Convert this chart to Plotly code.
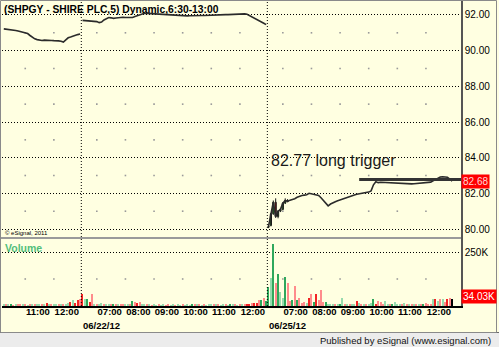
import plotly.graph_objects as go

# ---------------- data ----------------
title_text = "(SHPGY - SHIRE PLC,5) Dynamic,6:30-13:00"
day_labels = ["06/22/12", "06/25/12"]

# 5-minute closes (session 6:30-13:00)
close_d1 = [91.22, 91.21, 91.20, 91.19, 91.17, 91.13, 91.10, 91.07, 91.03, 91.00,
            90.96, 90.85, 90.74, 90.66, 90.62, 90.58, 90.57, 90.59, 90.57, 90.58,
            90.57, 90.56, 90.57, 90.55, 90.53, 90.48, 90.60, 90.72, 90.76, 90.82,
            90.86, 90.90, 90.93]          # 06/21, bars from 10:15
close_d2 = [91.70, 91.69, 91.68, 91.66, 91.65, 91.64, 91.63, 91.57, 91.60, 91.72,
            91.80, 91.86, 91.84, 91.81, 91.83, 91.85, 91.86, 91.87, 91.86, 91.85,
            91.84, 91.86, 91.92, 91.96, 92.02, 92.08, 92.10, 92.09, 92.08, 92.07,
            92.06, 92.05, 92.04, 92.03, 92.02, 92.01, 92.00, 91.98, 91.97, 91.96,
            91.95, 91.94, 91.95, 91.96, 91.95, 91.96, 91.97, 91.98, 91.99, 91.98,
            91.97, 91.97, 91.98, 91.98, 91.97, 91.98, 91.99, 92.00, 92.00, 92.01,
            92.02, 92.02, 92.03, 92.04, 92.05, 92.07, 92.07, 92.06, 92.06, 92.04,
            91.97, 91.93, 91.86, 91.78, 91.70, 91.62, 91.54, 91.46]   # 06/22
close_d3 = [80.15, 80.85, 81.50, 80.70, 81.00, 81.10, 81.45, 81.60, 81.55, 81.62,
            81.65, 81.70, 81.78, 81.85, 81.88, 81.90, 81.92, 82.00, 81.96, 81.93,
            81.91, 81.88, 81.75, 81.58, 81.45, 81.30, 81.40, 81.48, 81.53, 81.58,
            81.63, 81.70, 81.74, 81.78, 81.83, 81.87, 81.91, 81.95, 81.97, 81.99,
            82.01, 82.04, 82.07, 82.14, 82.48, 82.65, 82.60, 82.62, 82.61, 82.60,
            82.61, 82.60, 82.59, 82.58, 82.57, 82.56, 82.55, 82.54, 82.53, 82.52,
            82.53, 82.54, 82.55, 82.56, 82.57, 82.58, 82.59, 82.60, 82.63, 82.70,
            82.78, 82.88, 82.92, 82.93, 82.92, 82.90, 82.80, 82.68]   # 06/25

# opening candles of 06/25
cndl_open  = [80.10, 80.20, 80.85, 81.50, 80.70, 81.00, 81.10, 81.45, 81.60]
cndl_high  = [80.25, 80.90, 81.60, 81.72, 81.05, 81.15, 81.50, 81.72, 81.68]
cndl_low   = [80.05, 80.15, 80.80, 80.62, 80.60, 80.95, 81.05, 81.40, 81.50]
cndl_close = [80.15, 80.85, 81.50, 80.70, 81.00, 81.10, 81.45, 81.60, 81.55]

# volume (thousands) and colour codes (G up, g up-light, R down, r down-light)
vol_d1 = [8, 5, 6, 7, 4, 5, 6, 5, 6, 5, 4, 6, 5, 6, 5, 7, 5, 6, 12, 5,
          6, 7, 10, 6, 10, 7, 9, 14, 17, 28, 14, 28, 33]
col_d1 = "grgGrgrrgrgrgrggrgRgrggrgrggRgRRr"
vol_d2 = [54, 32, 32, 17, 56, 6, 5, 8, 12, 6, 10, 7, 5, 9, 6, 5, 7, 6, 5, 8,
          7, 23, 17, 12, 17, 10, 5, 6, 5, 4, 5, 4, 5, 4, 5, 4, 5, 4, 5, 4,
          5, 4, 5, 4, 5, 4, 5, 5, 9, 5, 4, 5, 4, 5, 5, 5, 9, 5, 4, 5,
          5, 4, 5, 9, 5, 4, 5, 6, 5, 7, 8, 12, 14, 14, 28, 28, 36, 23]
col_d2 = "RgGRrgrggrggrGrgrrggrGrRrggrgrggrggrrggrggrgggGrgrgrgggrgrggrgGgrgrgrRRrRRrGr"
vol_d3 = [89, 130, 287, 108, 147, 66, 37, 133, 108, 23, 28, 93, 28, 38, 15, 20, 15, 38, 56, 20,
          56, 28, 74, 20, 17, 8, 9, 7, 10, 6, 8, 36, 6, 5, 7, 5, 6, 23, 14, 6,
          5, 7, 6, 14, 31, 8, 23, 20, 8, 23, 6, 8, 6, 20, 9, 8, 6, 14, 6, 5,
          6, 5, 6, 5, 7, 6, 14, 6, 9, 31, 33, 23, 31, 31, 20, 33, 36, 34.03]
col_d3 = "GGgGrGggGrrGrGrrrgRrGRrrrGgggrgGgrgrggRgrgrggGRrrrggrGgggrgrgrgrgrGrrrgRgrgrRr"

# axis ticks
price_ticks = [80, 82, 84, 86, 88, 90, 92]
vol_tick_vals = [250000]
vol_tick_text = ["250K"]
time_ticks_d1 = ["11:00", "12:00"]
time_ticks_d2 = ["07:00", "08:00", "09:00", "10:00", "11:00", "12:00"]
time_ticks_d3 = ["07:00", "08:00", "09:00", "10:00", "11:00", "12:00"]
trigger_price = 82.77
trigger_label = "82.77 long trigger"
trigger_start = "09:40"   # on 06/25
last_price_text = "82.68"
last_vol_text = "34.03K"

# ---------------- bar index helpers ----------------
SESSION_START = 6 * 60 + 30
BAR = 5
d1_first = 45                     # first visible bar of 06/21 (10:15)
off1 = -d1_first
off2 = len(close_d1)
off3 = off2 + len(close_d2)


def bar_of(offset, hhmm):
    h, m = hhmm.split(":")
    return offset + (int(h) * 60 + int(m) - SESSION_START) // BAR


x1 = list(range(0, len(close_d1)))
x2 = list(range(off2, off2 + len(close_d2)))
x3 = list(range(off3, off3 + len(close_d3)))

tick_x = ([bar_of(off1, t) for t in time_ticks_d1] +
          [bar_of(off2, t) for t in time_ticks_d2] +
          [bar_of(off3, t) for t in time_ticks_d3])
tick_txt = time_ticks_d1 + time_ticks_d2 + time_ticks_d3

cmap = {"G": "#2FA85C", "g": "#98DBAE", "R": "#F22424", "r": "#FF8C8C"}
vol_all = [v * 1000 for v in vol_d1 + vol_d2 + vol_d3]
col_all = [cmap[c] for c in col_d1 + col_d2 + col_d3]
x_all = x1 + x2 + x3

BG = "#FFFFE1"
FONT = "Liberation Sans"

fig = go.Figure()

# grid dots (between price gridlines, at hourly ticks)
mid_levels = [p + 1 for p in price_ticks[:-1]]
fig.add_trace(go.Scatter(
    x=[t for t in tick_x for _ in mid_levels],
    y=[lv for _ in tick_x for lv in mid_levels],
    mode="markers", marker=dict(symbol="square", size=1.6, color="#9a9a9a"),
    xaxis="x", yaxis="y", hoverinfo="skip", showlegend=False))
fig.add_trace(go.Scatter(
    x=tick_x, y=[vol_tick_vals[0] / 2] * len(tick_x),
    mode="markers", marker=dict(symbol="square", size=1.6, color="#9a9a9a"),
    xaxis="x", yaxis="y2", hoverinfo="skip", showlegend=False))

# price lines per day
for xs, ys in ((x1, close_d1), (x2, close_d2), (x3, close_d3)):
    fig.add_trace(go.Scatter(x=xs, y=ys, mode="lines",
                             line=dict(color="#2b2b2b", width=1.6),
                             xaxis="x", yaxis="y", hoverinfo="skip", showlegend=False))

fig.add_trace(go.Candlestick(
    x=x3[:len(cndl_open)], open=cndl_open, high=cndl_high, low=cndl_low, close=cndl_close,
    increasing=dict(line=dict(color="#1a1a1a", width=1), fillcolor="#1FC01F"),
    decreasing=dict(line=dict(color="#1a1a1a", width=1), fillcolor="#B00000"),
    xaxis="x", yaxis="y", hoverinfo="skip", showlegend=False))

fig.add_trace(go.Bar(x=x_all, y=vol_all, marker=dict(color=col_all, line=dict(width=0)),
                     width=0.5, xaxis="x", yaxis="y2", hoverinfo="skip", showlegend=False))

# ---------------- layout ----------------
W, H = 499, 347
ML, MR, MT, MB = 2, 38, 0, 41
PW, PH = W - ML - MR, H - MT - MB


def px(xp):
    return (xp - ML) / PW


def py(yp):
    return (PH - (yp - MT)) / PH


split = py(238)
xr = [-0.75, 191.7]

shapes = []
for b in (off2 - 0.5, off3 - 0.5):
    shapes.append(dict(type="line", xref="x", yref="paper", x0=b, x1=b, y0=0, y1=1,
                       line=dict(color="#000000", width=1, dash="1px,2px")))
shapes.append(dict(type="line", xref="paper", yref="paper", x0=px(0), x1=1, y0=split, y1=split,
                   line=dict(color="#9a9a9a", width=2)))
shapes.append(dict(type="line", xref="x", yref="y", x0=bar_of(off3, trigger_start), x1=xr[1],
                   y0=trigger_price, y1=trigger_price, line=dict(color="#333333", width=3)))
shapes.append(dict(type="rect", xref="paper", yref="paper", x0=px(0), x1=px(499),
                   y0=py(347), y1=py(332.5), fillcolor="#ECECEC", line=dict(width=0), layer="below"))
shapes.append(dict(type="line", xref="paper", yref="paper", x0=px(0), x1=px(499),
                   y0=py(332.5), y1=py(332.5), line=dict(color="#6a6a6a", width=1)))
shapes.append(dict(type="rect", xref="paper", yref="paper", x0=px(0.5), x1=px(496.5),
                   y0=py(332.5), y1=py(0.5), line=dict(color="#8a8a8a", width=1)))

annotations = [
    dict(text="<b>" + title_text + "</b>", xref="paper", yref="paper", x=px(1.5), y=py(9),
         xanchor="left", yanchor="middle", showarrow=False,
         font=dict(family=FONT, size=10.3, color="#000")),
    dict(text="<b>Volume</b>", xref="paper", yref="paper", x=px(2.5), y=py(248), xanchor="left",
         yanchor="middle", showarrow=False, font=dict(family=FONT, size=10.5, color="#52BE7A")),
    dict(text="© eSignal, 2011", xref="paper", yref="paper", x=px(2.5), y=py(233), xanchor="left",
         yanchor="middle", showarrow=False, font=dict(family=FONT, size=6, color="#000")),
    dict(text=trigger_label, xref="x", yref="y", x=bar_of(off3, "06:40") - 1.7, y=83.85,
         xanchor="left", yanchor="middle", showarrow=False,
         font=dict(family=FONT, size=16, color="#1a1a1a")),
    dict(text=last_price_text, xref="paper", yref="y", x=1.0, y=close_d3[-1], xanchor="left",
         yanchor="middle", showarrow=False, bgcolor="#FF0000", borderpad=1,
         font=dict(family=FONT, size=10, color="#FFD6D6")),
    dict(text=last_vol_text, xref="paper", yref="y2", x=1.0, y=vol_all[-1] + 9000, xanchor="left",
         yanchor="middle", showarrow=False, bgcolor="#FF0000", borderpad=1,
         font=dict(family=FONT, size=10, color="#FFFFFF")),
    dict(text="Published by eSignal (www.esignal.com)", xref="paper", yref="paper",
         x=px(493), y=py(340), xanchor="right", yanchor="middle", showarrow=False,
         font=dict(family=FONT, size=9.5, color="#111")),
]
for b, lbl in zip((off2 - 0.5, off3 - 0.5), day_labels):
    annotations.append(dict(text="<b>" + lbl + "</b>", xref="x", yref="paper", x=b, y=py(325),
                            xanchor="left", yanchor="middle", showarrow=False,
                            font=dict(family=FONT, size=9.5, color="#000")))

fig.update_layout(
    width=W, height=H,
    margin=dict(l=ML, r=MR, t=MT, b=MB, pad=0),
    paper_bgcolor=BG, plot_bgcolor=BG,
    showlegend=False, bargap=0,
    font=dict(family=FONT, color="#000"),
    xaxis=dict(domain=[0, 1], anchor="y2", range=xr, showgrid=False, zeroline=False,
               tickmode="array", tickvals=tick_x, ticktext=tick_txt, ticks="",
               ticklabelposition="outside right", tickangle=0, ticklabelstandoff=-4,
               tickfont=dict(family=FONT, size=9.5, color="#000", weight="bold"),
               showline=True, linecolor="#000", linewidth=1.5,
               rangeslider=dict(visible=False), fixedrange=True),
    yaxis=dict(domain=[split, 1], anchor="x", side="right", range=[79.496, 92.84],
               tickmode="array", tickvals=price_ticks, tickformat=".2f", ticks="",
               tickfont=dict(family=FONT, size=10, color="#000"),
               showgrid=True, gridcolor="#000", gridwidth=1, griddash="1px,2px",
               zeroline=False, showline=True, linecolor="#555", linewidth=1.5),
    yaxis2=dict(domain=[0, split], anchor="x", side="right", range=[0, 314800],
                tickmode="array", tickvals=vol_tick_vals, ticktext=vol_tick_text, ticks="",
                tickfont=dict(family=FONT, size=10, color="#000"),
                showgrid=True, gridcolor="#000", gridwidth=1, griddash="1px,2px",
                zeroline=False, showline=True, linecolor="#555", linewidth=1.5),
    shapes=shapes, annotations=annotations,
)

fig.write_html("out.html")
